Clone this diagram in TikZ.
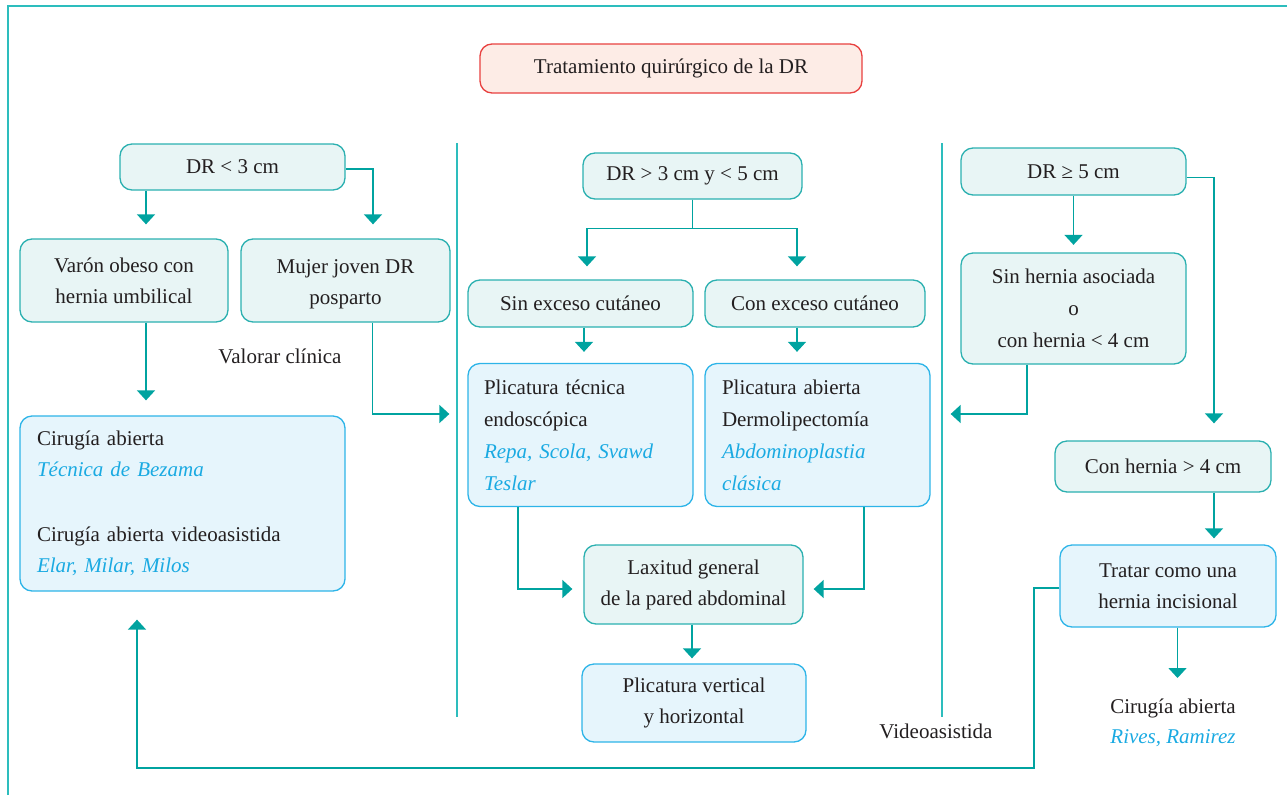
\documentclass[tikz,border=0pt]{standalone}
\usepackage{fontspec}
\setmainfont{Liberation Serif}
\usetikzlibrary{arrows.meta}
\definecolor{conncol}{HTML}{00A3A0}
\definecolor{tealborder}{HTML}{2BB0B0}
\definecolor{tealfill}{HTML}{E8F5F5}
\definecolor{bluefill}{HTML}{E6F5FC}
\definecolor{blueborder}{HTML}{2DB4E8}
\definecolor{bluetext}{HTML}{1AAAE2}
\definecolor{redborder}{HTML}{E8403F}
\definecolor{redfill}{HTML}{FDECE6}
\definecolor{framecol}{HTML}{2DBDBD}
\definecolor{txt}{HTML}{231F20}
\newcommand\bt[1]{{\color{bluetext}\itshape #1}}
\tikzset{
  base/.style={rounded corners=12pt, line width=1.3pt, inner sep=0pt, font=\fontsize{21}{31}\selectfont, text=txt, align=center},
  tbox/.style={base, draw=tealborder, fill=tealfill},
  bbox/.style={base, draw=blueborder, fill=bluefill},
  rbox/.style={base, draw=redborder, fill=redfill},
  lbox/.style={bbox, align=left, inner xsep=16pt},
  freetext/.style={font=\fontsize{21}{30}\selectfont, text=txt, align=center, inner sep=0pt},
  conn/.style={draw=conncol, line width=1.6pt, -{Triangle[width=18pt,length=10pt]}},
  framel/.style={draw=framecol, line width=2pt},
  sepl/.style={draw=framecol, line width=1.5pt}
}
\begin{document}
\begin{tikzpicture}[x=1pt,y=-1pt]
\useasboundingbox (0,0) rectangle (1287,795);
% frame and separators
\draw[framel] (8,795) -- (8,6) -- (1287,6);
\draw[sepl] (457,143) -- (457,717);
\draw[sepl] (942,143) -- (942,717);

% nodes
\node[rbox, minimum width=382, minimum height=49] (title) at (671,68.5) {Tratamiento quirúrgico de la DR};

\node[tbox, minimum width=225, minimum height=46] (dr3) at (232.5,167) {DR < 3 cm};
\node[tbox, minimum width=208, minimum height=83] (varon) at (124,280.5) {Varón obeso con\\hernia umbilical};
\node[tbox, minimum width=209, minimum height=83] (mujer) at (345.5,280.5) {\strut Mujer joven DR\\posparto};
\node[freetext, anchor=base] (valorar) at (280,363) {Valorar clínica};
\node[lbox, inner xsep=17pt, text width=291, minimum height=175] (cir) at (182.5,503.5)
  {Cirugía abierta\\\bt{Técnica de Bezama}\\[34pt]Cirugía abierta videoasistida\\\bt{Elar, Milar, Milos}};

\node[tbox, minimum width=219, minimum height=46] (dr35) at (692.5,176) {DR > 3 cm y < 5 cm};
\node[tbox, minimum width=225, minimum height=47] (sin) at (580.5,303.5) {Sin exceso cutáneo};
\node[tbox, minimum width=220, minimum height=47] (con) at (815,303.5) {Con exceso cutáneo};
\node[lbox, font=\fontsize{21}{32}\selectfont, text width=193, minimum height=143] (plt) at (580.5,435)
  {Plicatura técnica\\endoscópica\\\bt{Repa, Scola, Svawd}\\\bt{Teslar}};
\node[lbox, font=\fontsize{21}{32}\selectfont, inner xsep=17pt, text width=191, minimum height=143] (pla) at (817.5,435)
  {Plicatura abierta\\Dermolipectomía\\\bt{Abdominoplastia}\\\bt{clásica}};
\node[tbox, minimum width=219, minimum height=79] (lax) at (693.5,584.5) {Laxitud general\\de la pared abdominal};
\node[bbox, minimum width=224, minimum height=78] (plv) at (694,703) {Plicatura vertical\\y horizontal};

\node[tbox, minimum width=225, minimum height=47] (dr5) at (1073.5,171.5) {DR ≥ 5 cm};
\node[tbox, font=\fontsize{21}{32}\selectfont, minimum width=225, minimum height=111] (sinh) at (1073.5,308.5) {Sin hernia asociada\\o\\con hernia < 4 cm};
\node[tbox, minimum width=216, minimum height=51] (conh) at (1163,466.5) {Con hernia > 4 cm};
\node[bbox, minimum width=216, minimum height=82] (trat) at (1168,586) {Tratar como una\\hernia incisional};
\node[freetext] (cirab) at (1173,723) {Cirugía abierta\\\bt{Rives, Ramirez}};
\node[freetext, anchor=base] (video) at (936,738) {Videoasistida};

\coordinate (cirtop) at (1177.5,678);
\coordinate (loopR) at (1034,768);

% connectors
\draw[conn, shorten >=14pt] ([xshift=-86.5pt]dr3.south) -- ([xshift=22pt]varon.north);
\draw[conn, shorten >=14pt] ([yshift=-2pt]dr3.east) -| ([xshift=27.5pt]mujer.north);
\draw[conn, shorten >=15pt] ([xshift=22pt]varon.south) -- ([xshift=-36.5pt]cir.north);
\draw[conn, shorten >=18pt] ([xshift=27pt]mujer.south) |- ([yshift=21pt]plt.west);

\draw[conn, shorten >=13pt] (dr35.south) -- ++(0,29) -| ([xshift=6.5pt]sin.north);
\draw[conn, shorten >=13pt] (dr35.south) -- ++(0,29) -| ([xshift=-18pt]con.north);
\draw[conn, shorten >=11pt] ([xshift=3.5pt]sin.south) -- ([xshift=3.5pt]plt.north);
\draw[conn, shorten >=11pt] ([xshift=-18pt]con.south) -- ([xshift=-20.5pt]pla.north);
\draw[conn, shorten >=11pt] ([xshift=-62.5pt]plt.south) |- ([yshift=-4.5pt]lax.west);
\draw[conn, shorten >=10pt] ([xshift=46.5pt]pla.south) |- ([yshift=-4.5pt]lax.east);
\draw[conn, shorten >=5pt] ([xshift=-1.5pt]lax.south) -- ([xshift=-2pt]plv.north);

\draw[conn, shorten >=7.5pt] (dr5.south) -- (sinh.north);
\draw[conn, shorten >=17pt] ([yshift=-6pt]dr5.east) -| ([xshift=51pt]conh.north);
\draw[conn, shorten >=20pt] ([xshift=-46.5pt]sinh.south) |- ([yshift=21pt]pla.east);
\draw[conn, shorten >=6pt] ([xshift=51pt]conh.south) -- ([xshift=46pt]trat.north);
\draw[conn] (trat.south -| cirtop) -- (cirtop);
\draw[conn, shorten >=28pt] ([yshift=-2pt]trat.west) -| (loopR) -| ([xshift=-45.5pt]cir.south);
\end{tikzpicture}
\end{document}
